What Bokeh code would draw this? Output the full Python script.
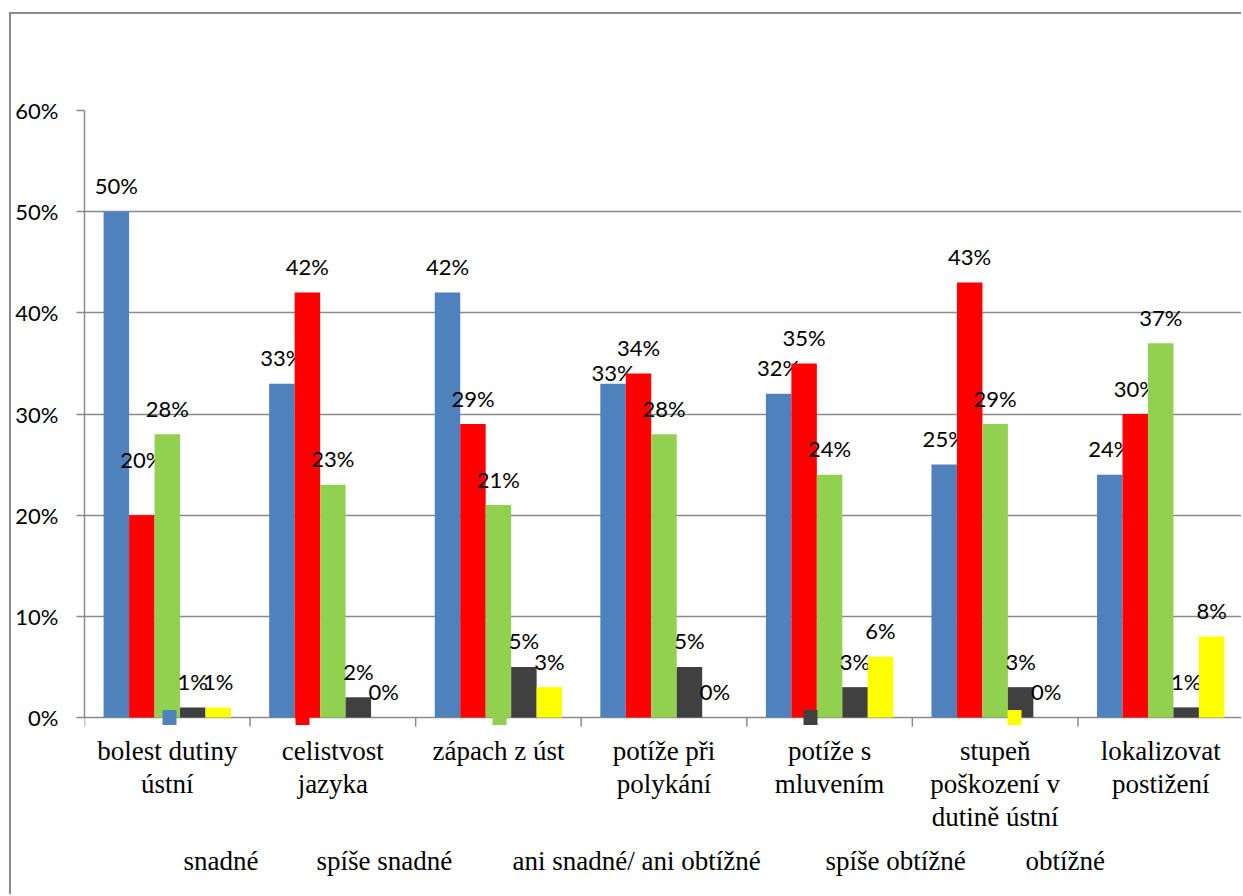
import math
from bokeh.plotting import figure
from bokeh.models import ColumnDataSource, FixedTicker, Range1d, PrintfTickFormatter
from bokeh.core.properties import value
from bokeh.embed import file_html
from bokeh.resources import INLINE

categories = [
    "bolest dutiny\nústní",
    "celistvost\njazyka",
    "zápach z úst",
    "potíže při\npolykání",
    "potíže s\nmluvením",
    "stupeň\npoškození v\ndutině ústní",
    "lokalizovat\npostižení",
]
series_names = ["snadné", "spíše snadné", "ani snadné/ ani obtížné", "spíše obtížné", "obtížné"]
snadne = [50, 33, 42, 33, 32, 25, 24]
spise_snadne = [20, 42, 29, 34, 35, 43, 30]
ani_ani = [28, 23, 21, 28, 24, 29, 37]
spise_obtizne = [1, 2, 5, 5, 3, 3, 1]
obtizne = [1, 0, 3, 0, 6, 0, 8]
y_ticks = [0, 10, 20, 30, 40, 50, 60]

series_values = [snadne, spise_snadne, ani_ani, spise_obtizne, obtizne]
colors = ["#4F81BD", "#FF0000", "#92D050", "#404040", "#FFFF00"]
# extra upward shift (px) of individual data labels, as placed in the original
label_shift = [
    [0, 0, 0, -15, 0, 0, 0],
    [30, 0, 0, 0, 0, 0, 0],
    [0, 0, 0, 0, 0, 0, 0],
    [0, 0, 0, 0, 0, 0, 0],
    [0, 0, 0, 0, 0, 0, 0],
]

GRAY = "#8a8a8a"
n = len(categories)
bar_w = 1 / 6.5

# layout: value area is 607 px tall; the frame continues 179 px below the zero line
# so that category labels and legend can be drawn inside it
VAL_PX, BELOW_PX = 607, 179
FRAME_W_PX = 1159
y_max = y_ticks[-1]
y_min = -y_max * BELOW_PX / VAL_PX
px_x = n / FRAME_W_PX  # data units per horizontal pixel

# legend layout (pixels from the frame's left edge / below the zero line)
LEGEND_SWATCH_PX = [85, 218, 415, 726, 930]
LEGEND_TEXT_PX = [99, 232, 428, 741, 941]
LEGEND_DROP_PX = 143

p = figure(width=1232, height=882, x_range=Range1d(0, n), y_range=Range1d(y_min, y_max),
           output_backend="svg", toolbar_location=None, x_axis_location=None,
           min_border_left=73, min_border_top=96, min_border_bottom=0, min_border_right=0,
           margin=(12, 0, 0, 9))
p.styles = {"border-left": f"2px solid {GRAY}", "border-top": f"2px solid {GRAY}"}
p.outline_line_color = None
p.background_fill_color = "white"

for s, (name, vals, col) in enumerate(zip(series_names, series_values, colors)):
    off = (s - 2) * bar_w
    xs = [i + 0.5 + off for i in range(n)]
    src = ColumnDataSource(dict(
        x=xs, top=vals, text=[f"{v}%" for v in vals],
        yoff=[-26 - label_shift[s][i] for i in range(n)],
    ))
    p.vbar(x="x", top="top", bottom=0, width=bar_w, source=src, fill_color=col, line_color=None)
    p.text(x="x", y="top", text="text", source=src, y_offset="yoff",
           text_align="center", text_baseline="middle",
           text_font=value("Lato"), text_font_size="22px", text_color="black")

# legend (drawn inside the frame so it can use the serif font)
leg_src = ColumnDataSource(dict(
    sx=[v * px_x for v in LEGEND_SWATCH_PX], tx=[v * px_x for v in LEGEND_TEXT_PX],
    y=[0] * len(colors), color=colors, name=series_names,
))
p.rect(x="sx", y="y", width=14, height=15, width_units="screen", height_units="screen",
       fill_color="color", line_color=None, source=leg_src)
p.text(x="tx", y="y", text="name", source=leg_src, y_offset=LEGEND_DROP_PX,
       text_align="left", text_baseline="middle",
       text_font=value("Liberation Serif"), text_font_size="27px", text_color="black")

# grid (the zero line doubles as the category axis line)
p.xgrid.visible = False
p.ygrid.grid_line_color = GRAY
p.ygrid.grid_line_width = 1.5
p.ygrid.ticker = FixedTicker(ticks=y_ticks)

# category axis: boundary ticks and labels
p.ray(x=list(range(n + 1)), y=[0] * (n + 1), length=9, length_units="screen",
      angle=-math.pi / 2, line_color=GRAY, line_width=1.5)
p.text(x=[i + 0.5 for i in range(n)], y=[0] * n, text=categories, y_offset=18,
       text_align="center", text_baseline="top", text_line_height=1.1,
       text_font=value("Liberation Serif"), text_font_size="27px", text_color="black")

ya = p.yaxis[0]
ya.bounds = (0, y_max)
ya.ticker = FixedTicker(ticks=y_ticks)
ya.formatter = PrintfTickFormatter(format="%d%%")
ya.major_tick_line_color = GRAY
ya.major_tick_line_width = 1.5
ya.major_tick_out = 8
ya.major_tick_in = 0
ya.minor_tick_line_color = None
ya.axis_line_color = GRAY
ya.axis_line_width = 1.5
ya.major_label_text_font = "Lato"
ya.major_label_text_font_size = "22px"
ya.major_label_text_color = "black"
ya.major_label_standoff = 18

open("out.html", "w").write(file_html(p, INLINE))
